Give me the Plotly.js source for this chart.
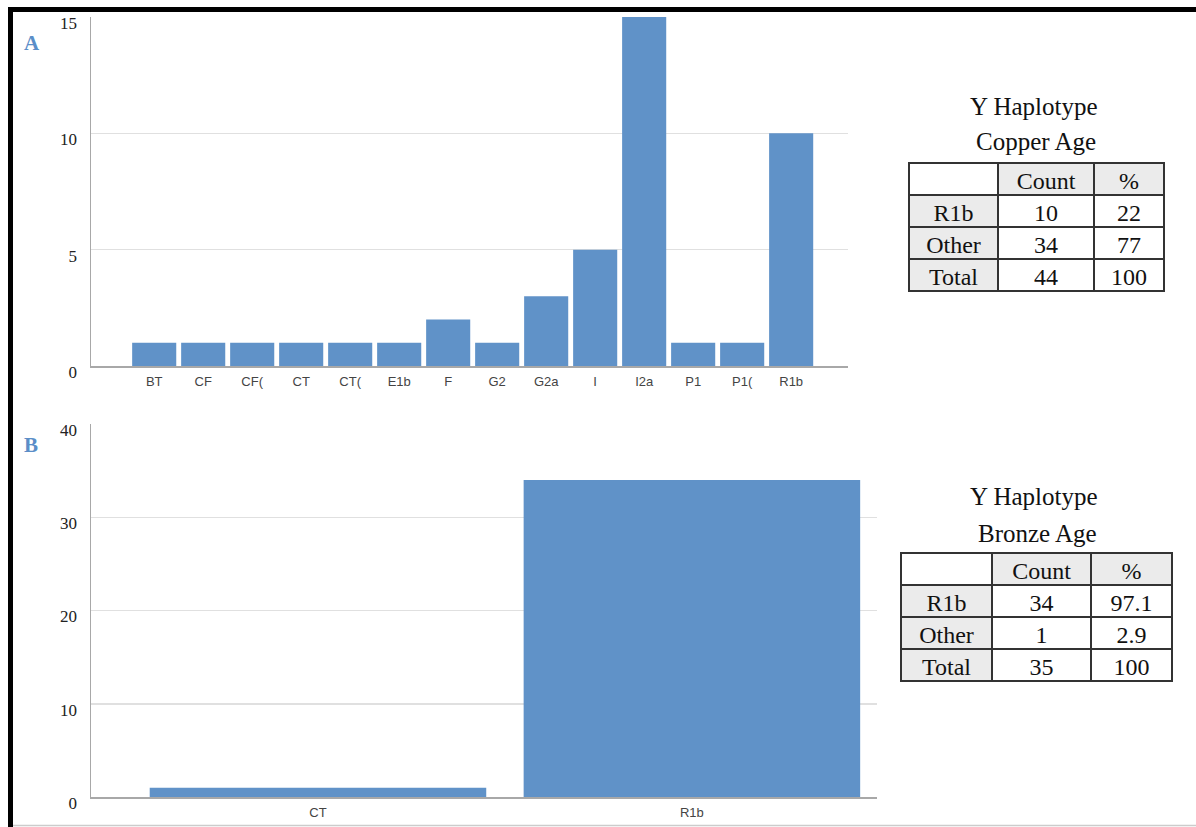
<!DOCTYPE html>
<html>
<head>
<meta charset="utf-8">
<script src="https://cdn.plot.ly/plotly-3.0.1.min.js"></script>
<style>
html,body{margin:0;padding:0;background:#fff;}
#chart{width:1196px;height:827px;}
</style>
</head>
<body>
<div id="chart"></div>
<script>
// ---- data ----
var catsA = ['BT','CF','CF(','CT','CT(','E1b','F','G2','G2a','I','I2a','P1','P1(','R1b'];
var countsA = [1,1,1,1,1,1,2,1,3,5,15,1,1,10];
var catsB = ['CT','R1b'];
var countsB = [1,34];
var tableRowLabels = ['R1b','Other','Total'];
var tableHeader = ['', 'Count', '%'];
var copperCount = ['10','34','44'];
var copperPct = ['22','77','100'];
var bronzeCount = ['34','1','35'];
var bronzePct = ['97.1','2.9','100'];
var copperTitle = ['Y Haplotype','Copper Age'];
var bronzeTitle = ['Y Haplotype','Bronze Age'];

// ---- helpers ----
var W = 1196, H = 827;
function px(x){return x/W;}
function py(y){return 1 - y/H;}
var barColor = '#6092c8';
var gridColor = '#e0e0e0';
var axisLineColor = '#a8a8a8';
var serif = 'Liberation Serif, Times New Roman, serif';
var sans = 'Liberation Sans, Arial, sans-serif';

var traces = [
  {type:'bar', x:catsA, y:countsA, xaxis:'x', yaxis:'y', marker:{color:barColor}, width:0.9, hoverinfo:'none'},
  {type:'bar', x:catsB, y:countsB, xaxis:'x2', yaxis:'y2', marker:{color:barColor}, width:0.9, hoverinfo:'none'}
];

function makeTable(count, pct, x0, x1, yTop, yBot, colw){
  var grey = '#ebebeb';
  return {
    type:'table',
    domain:{x:[px(x0),px(x1)], y:[py(yBot),py(yTop)]},
    columnwidth: colw,
    header:{
      values: tableHeader,
      align:'center',
      height:32,
      fill:{color:['#ffffff',grey,grey]},
      line:{color:'#333333', width:1.5},
      font:{family:serif, size:24, color:'#111111'}
    },
    cells:{
      values:[tableRowLabels, count, pct],
      align:'center',
      height:32,
      fill:{color:[grey,'#ffffff','#ffffff']},
      line:{color:'#333333', width:1.5},
      font:{family:serif, size:24, color:'#111111'}
    }
  };
}
traces.push(makeTable(copperCount, copperPct, 909, 1164, 163, 300, [89,96,70]));
traces.push(makeTable(bronzeCount, bronzePct, 901, 1172, 553, 690, [91,99,81]));

var yTickFont = {family:serif, size:17, color:'#222222'};
var xTickFont = {family:sans, size:13, color:'#444444'};

function ann(x, y, text, size, color){
  return {xref:'paper', yref:'paper', x:px(x), y:py(y), xanchor:'center', yanchor:'middle',
          text:text, showarrow:false, font:{family:serif, size:size, color:color}};
}
var annotations = [
  ann(32, 43, '<b>A</b>', 21, '#5b8ec8'),
  ann(31, 445, '<b>B</b>', 21, '#5b8ec8'),
  ann(1034, 106, copperTitle[0], 25, '#111'),
  ann(1036, 142, copperTitle[1], 25, '#111'),
  ann(1034, 497, bronzeTitle[0], 25, '#111'),
  ann(1037, 533, bronzeTitle[1], 25, '#111')
];

var shapes = [
  {type:'rect', xref:'paper', yref:'paper', x0:px(8), x1:1, y0:py(12), y1:py(7), fillcolor:'#000', line:{width:0}},
  {type:'rect', xref:'paper', yref:'paper', x0:px(8), x1:px(13), y0:0, y1:py(7), fillcolor:'#000', line:{width:0}},
  {type:'line', xref:'paper', yref:'paper', x0:px(13), x1:1, y0:py(825.5), y1:py(825.5), line:{color:'#cccccc', width:1.5}}
];

var layout = {
  width:W, height:H, autosize:false,
  margin:{l:0,r:0,t:0,b:0,pad:0},
  paper_bgcolor:'#ffffff', plot_bgcolor:'#ffffff',
  showlegend:false,
  bargap:0.1,
  xaxis:{
    domain:[px(91), px(848)], anchor:'y', type:'category',
    range:[-1.29, 14.16], showgrid:false, zeroline:false,
    showline:true, linecolor:axisLineColor, linewidth:1.5,
    ticks:'', tickfont:xTickFont, ticklabelstandoff:3, fixedrange:true
  },
  yaxis:{
    domain:[py(366), py(17)], anchor:'x',
    range:[0,15], tickvals:[0,5,10,15], showgrid:true, gridcolor:gridColor, gridwidth:1.5,
    zeroline:false, showline:true, linecolor:axisLineColor, linewidth:1.5,
    ticks:'', tickfont:yTickFont, ticklabelstandoff:9, ticklabelshift:6, fixedrange:true
  },
  xaxis2:{
    domain:[px(91), px(877)], anchor:'y2', type:'category',
    range:[-0.607, 1.495], showgrid:false, zeroline:false,
    showline:true, linecolor:axisLineColor, linewidth:1.5,
    ticks:'', tickfont:xTickFont, ticklabelstandoff:3, fixedrange:true
  },
  yaxis2:{
    domain:[py(797), py(424)], anchor:'x2',
    range:[0,40], tickvals:[0,10,20,30,40], showgrid:true, gridcolor:gridColor, gridwidth:1.5,
    zeroline:false, showline:true, linecolor:axisLineColor, linewidth:1.5,
    ticks:'', tickfont:yTickFont, ticklabelstandoff:9, ticklabelshift:6, fixedrange:true
  },
  annotations:annotations,
  shapes:shapes
};

Plotly.newPlot('chart', traces, layout, {staticPlot:true, displayModeBar:false});
</script>
</body>
</html>
